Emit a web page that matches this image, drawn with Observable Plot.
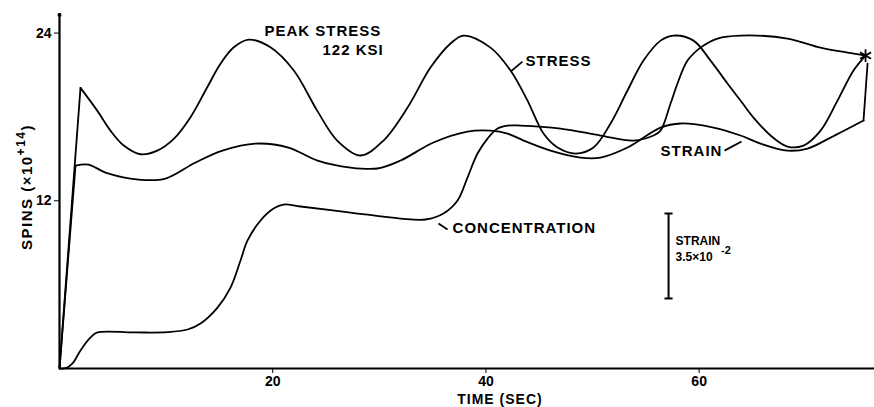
<!DOCTYPE html>
<html><head><meta charset="utf-8">
<script src="https://cdn.jsdelivr.net/npm/d3@7"></script>
<script src="https://cdn.jsdelivr.net/npm/@observablehq/plot@0.6"></script>
<style>
html,body{margin:0;padding:0;background:#fff;}
#chart svg{display:block;}
</style>
</head><body><div id="chart"></div>
<script>
// Time (s) and spins (x10^14)
const stressTime  = [0, 1.97, 3.54, 4.78, 6.03, 7.6, 9.17, 10.72, 12.29, 13.86, 15.1, 16.35, 17.76, 19.79, 21.98, 24.17, 26.05, 28.24, 30.39, 32.65, 34.8, 36.68, 37.9, 40.43, 42.31, 43.9, 45.4, 46.72, 48.41, 50.09, 51.69, 53.28, 54.78, 56.38, 57.6, 59.47, 61.07, 62.66, 63.88, 65.1, 66.7, 68.29, 69.79, 71.39, 72.98, 74.48, 75.61];
const stressSpins = [0, 20.08, 18.45, 17.02, 15.95, 15.33, 15.59, 16.43, 17.98, 20.12, 21.8, 22.98, 23.53, 22.98, 21.32, 18.45, 16.31, 15.24, 16.31, 18.67, 21.53, 23.25, 23.82, 22.96, 21.32, 19.17, 16.81, 15.81, 15.38, 15.81, 17.53, 19.89, 22.03, 23.46, 23.82, 23.46, 22.03, 20.39, 19.17, 17.95, 16.67, 15.88, 15.95, 17.02, 19.17, 21.32, 22.39];

const strainTime  = [0, 1.5, 2.72, 4.32, 7.41, 9.94, 12.76, 15.29, 18.39, 21.48, 24.2, 27.3, 29.83, 31.99, 35.08, 38.27, 40.43, 42.03, 43.53, 46.06, 48.87, 50.75, 53.28, 56.38, 58.26, 61.35, 63.88, 65.76, 68.29, 70.17, 72.33, 75.42, 75.8];
const strainSpins = [0, 14.52, 14.59, 14.02, 13.52, 13.59, 14.74, 15.59, 16.09, 15.81, 14.88, 14.38, 14.31, 14.88, 16.17, 16.95, 17.02, 16.81, 16.31, 15.59, 15.09, 15.09, 15.81, 17.24, 17.53, 17.24, 16.67, 16.09, 15.59, 15.74, 16.52, 17.74, 21.82];

const concTime  = [0, 0.6, 1.22, 1.97, 2.91, 3.56, 6.94, 10.13, 12.01, 13.23, 14.82, 16.04, 16.98, 17.64, 18.86, 20.08, 21.01, 22.61, 27.3, 31.99, 34.33, 36.02, 37.34, 38.27, 39.21, 40.15, 41.09, 42.03, 43.25, 47.0, 50.75, 53.85, 55.72, 56.38, 57.32, 57.97, 58.91, 60.13, 61.73, 63.88, 68.29, 71.39, 73.92, 75.61];
const concSpins = [0, 0.02, 0.36, 1.29, 2.22, 2.58, 2.58, 2.6, 2.79, 3.22, 4.36, 5.79, 7.73, 9.16, 10.59, 11.44, 11.73, 11.59, 11.16, 10.73, 10.66, 11.09, 12.02, 13.66, 15.38, 16.45, 17.17, 17.38, 17.38, 17.17, 16.67, 16.31, 16.67, 17.02, 18.96, 20.39, 22.03, 22.96, 23.61, 23.82, 23.61, 22.96, 22.6, 22.39];

// Axis ticks
const xTicks = [20, 40, 60];
const yTicks = [12, 24];

// Curve annotations
const labelText  = ["PEAK STRESS", "122 KSI", "STRESS", "STRAIN", "CONCENTRATION"];
const labelTime  = [19.23, 24.67, 43.71, 56.38, 36.87];
const labelSpins = [24.1, 22.75, 21.96, 15.52, 10.01];
const labelSize  = [15, 15, 15, 15, 15];

// Leader lines from labels to curves
const leadT1 = [42.31, 62.38, 35.55];
const leadV1 = [21.24, 15.59, 10.37];
const leadT2 = [43.43, 63.98, 36.40];
const leadV2 = [21.96, 16.24, 9.94];

// Strain scale bar (3.5x10^-2)
const barTime = [57.13];
const barTop = [11.09];
const barBottom = [5.01];
const barCapHalf = 0.38;
const barText = ["STRAIN", "3.5×10"];
const barTextTime = [57.79, 57.79];
const barTextSpins = [9.08, 7.94];
const barSupText = ["-2"];
const barSupTime = [62.05];
const barSupSpins = [8.45];

// Failure point marker
const failTime = [75.61];
const failSpins = [22.39];

function rows(name, ts, vs) { return ts.map((t, i) => ({series: name, t, v: vs[i]})); }
const stress = rows("stress", stressTime, stressSpins);
const strain = rows("strain", strainTime, strainSpins);
const conc = rows("concentration", concTime, concSpins);

const labels = labelText.map((s, i) => ({s, t: labelTime[i], v: labelSpins[i], size: labelSize[i]}));
const leads = leadT1.map((t, i) => ({t1: t, v1: leadV1[i], t2: leadT2[i], v2: leadV2[i]}));
const bars = barTime.map((t, i) => ({t, top: barTop[i], bottom: barBottom[i]}));
const caps = bars.flatMap(b => [{t1: b.t - barCapHalf, t2: b.t + barCapHalf, v: b.top}, {t1: b.t - barCapHalf, t2: b.t + barCapHalf, v: b.bottom}]);
const barTexts = barText.map((s, i) => ({s, t: barTextTime[i], v: barTextSpins[i]}));
const sups = barSupText.map((s, i) => ({s, t: barSupTime[i], v: barSupSpins[i]}));
const fail = failTime.map((t, i) => ({t, v: failSpins[i]}));

const lineW = 1.8;
const chart = Plot.plot({
  width: 874, height: 407,
  marginLeft: 59, marginRight: 0, marginTop: 13, marginBottom: 39,
  style: {fontFamily: "Liberation Sans, Arial, sans-serif", fontSize: "14px", fontWeight: "bold", color: "#000", background: "#fff"},
  x: {domain: [0, 76.45], ticks: xTicks, tickSize: 5, tickPadding: 3, tickFormat: d => String(d), label: null},
  y: {domain: [0, 25.4], ticks: yTicks, tickSize: 5, tickPadding: 3, tickFormat: d => String(d), label: null},
  marks: [
    Plot.ruleY([0], {stroke: "#000", strokeWidth: 2.2}),
    Plot.ruleX([0], {stroke: "#000", strokeWidth: 2.2}),
    Plot.dot([{t: 0, v: 25.3}], {x: "t", y: "v", r: 2, fill: "#000"}),
    // stress
    Plot.line(stress.slice(0, 2), {x: "t", y: "v", stroke: "#000", strokeWidth: lineW}),
    Plot.line(stress.slice(1), {x: "t", y: "v", stroke: "#000", strokeWidth: lineW, curve: "catmull-rom"}),
    // strain
    Plot.line(strain.slice(0, 2), {x: "t", y: "v", stroke: "#000", strokeWidth: lineW}),
    Plot.line(strain.slice(1, -1), {x: "t", y: "v", stroke: "#000", strokeWidth: lineW, curve: "catmull-rom"}),
    Plot.line(strain.slice(-2), {x: "t", y: "v", stroke: "#000", strokeWidth: lineW}),
    // concentration
    Plot.line(conc, {x: "t", y: "v", stroke: "#000", strokeWidth: lineW, curve: "catmull-rom"}),
    // failure asterisk
    Plot.dot(fail, {x: "t", y: "v", symbol: "asterisk", r: 6, stroke: "#000", strokeWidth: 1.8}),
    // labels
    Plot.link(leads, {x1: "t1", y1: "v1", x2: "t2", y2: "v2", stroke: "#000", strokeWidth: 1.8}),
    Plot.text(labels, {x: "t", y: "v", text: "s", fontSize: "size", textAnchor: "start", fill: "#000", fontWeight: "bold"}),
    // scale bar
    Plot.link(bars, {x1: "t", x2: "t", y1: "top", y2: "bottom", stroke: "#000", strokeWidth: 2}),
    Plot.link(caps, {x1: "t1", x2: "t2", y1: "v", y2: "v", stroke: "#000", strokeWidth: 2}),
    Plot.text(barTexts, {x: "t", y: "v", text: "s", fontSize: 12, textAnchor: "start", fill: "#000", fontWeight: "bold"}),
    Plot.text(sups, {x: "t", y: "v", text: "s", fontSize: 11, textAnchor: "start", fill: "#000", fontWeight: "bold"})
  ]
});

const svg = d3.select(chart);
svg.selectAll("g[aria-label='text'] text").each(function() {
  const fs = +d3.select(this.parentNode).attr("font-size") || +this.getAttribute("font-size") || 15;
  if (fs >= 14) d3.select(this).attr("letter-spacing", "1px");
});
// rotated y-axis title with superscript
const yl = svg.append("text")
  .attr("transform", "translate(32,250) rotate(-90)")
  .attr("text-anchor", "start")
  .attr("font-family", "Liberation Sans, Arial, sans-serif")
  .attr("font-weight", "bold")
  .attr("font-size", 15)
  .attr("letter-spacing", "1.5px")
  .attr("fill", "#000");
yl.append("tspan").text("SPINS (×10");
yl.append("tspan").attr("dy", -7).attr("font-size", 12).text("+14");
yl.append("tspan").attr("dy", 7).text(")");
// x-axis title
svg.append("text")
  .attr("x", 500).attr("y", 404)
  .attr("text-anchor", "middle")
  .attr("font-family", "Liberation Sans, Arial, sans-serif")
  .attr("font-weight", "bold")
  .attr("font-size", 14)
  .attr("letter-spacing", "1px")
  .attr("fill", "#000")
  .text("TIME (SEC)");

document.getElementById("chart").appendChild(chart);
</script>
</body></html>
